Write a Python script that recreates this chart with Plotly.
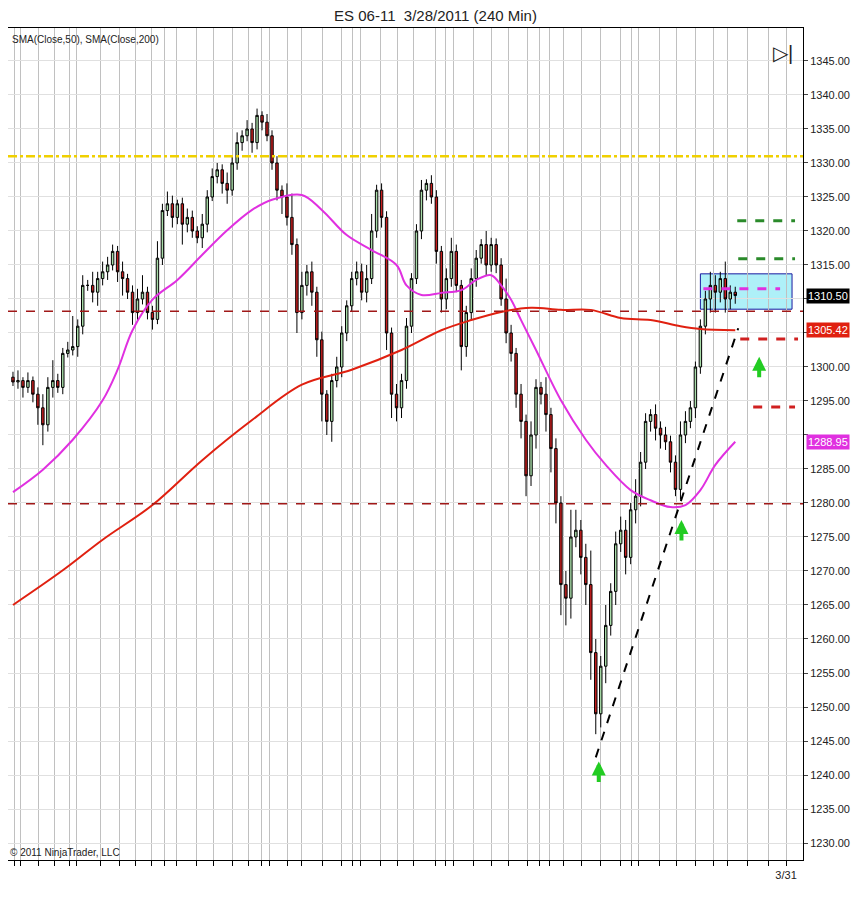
import plotly.graph_objects as go

closes = [1297.8,1298,1297,1298,1296,1294,1291.5,1297,1298,1297,1302,1302.5,1303,1306,1312,1312,1311,1313,1314,1315,
          1317,1314,1313,1311,1308,1310,1311,1308,1307,1316,1323,1324,1322,1324,1321,1322,1320,1319,1321,1325,
          1328,1329,1327,1326,1330,1333,1334,1335,1333,1337,1336,1334,1330,1326,1325,1322,1318,1308,1312,1314,
          1311,1304,1296,1292,1298,1300,1305,1309,1313,1314,1311,1313,1320,1326,1322,1305,1296,1294,1298,1306,
          1313,1320,1326,1327,1325,1317,1310,1313,1317,1312,1303,1308,1313,1316,1318,1315,1318,1315,1310,1305,
          1302,1296,1292,1284,1290,1297,1296,1293,1288,1280,1268,1266,1275,1276,1272,1268,1258,1249,1256,1262,
          1267,1274,1276,1272,1279,1281,1286,1292,1293,1291,1290,1289,1286,1282,1290,1292,1294,1300,1306,1310,
          1312,1311,1313,1310,1311,1310.5]
first_open = 1298.5
up_wick = [0.8,1.5,0.5,1.2,0.6,1.0,2.0,1.5,3.0,1.0,0.8,1.2,4.5,1.0,1.5,0.8,2.0,1.0,1.5,1.2,
           1.0,0.8,1.5,0.7,1.0,1.5,2.5,0.8,1.0,2.5,1.0,1.8,1.2,0.6,0.9,1.3,1.0,0.7,1.5,1.0,
           1.2,1.0,0.8,1.6,1.0,1.5,0.8,1.3,0.9,1.0,0.6,1.2,0.8,1.0,0.7,2.0,3.5,0.9,2.0,1.0,
           1.5,0.8,1.2,0.6,1.0,1.5,1.0,0.8,1.0,1.5,1.2,2.0,2.5,0.8,1.0,0.9,0.8,1.5,1.0,1.2,
           0.8,1.0,1.5,0.6,1.2,1.0,0.8,1.5,2.0,1.0,0.8,1.0,1.5,1.2,0.8,2.0,1.0,0.9,1.0,3.0,
           1.2,0.8,1.5,1.0,2.0,1.2,0.8,2.5,1.0,1.5,1.0,2.0,4.0,3.0,1.5,2.0,5.0,2.0,1.5,3.0,
           1.2,1.8,2.0,1.5,1.0,2.5,1.5,1.2,0.8,1.5,1.0,1.2,0.9,1.0,2.0,1.5,1.0,0.8,1.0,1.2,
           2.0,1.5,1.0,2.5,1.0,0.8]
lo_wick = [0.6,1.0,1.5,0.8,1.2,2.5,3.0,1.0,1.5,0.8,1.0,0.6,0.8,1.5,1.2,0.8,1.5,2.0,1.0,1.2,
           0.8,1.5,2.5,1.0,1.8,1.2,0.8,1.0,1.5,0.7,1.0,0.8,1.5,1.0,3.0,1.2,1.0,0.8,1.5,1.2,
           0.6,1.0,1.5,2.0,0.8,1.0,1.2,0.8,1.5,1.0,1.2,0.8,1.0,1.5,2.5,1.2,1.5,3.0,1.0,1.5,
           2.0,2.5,4.0,2.0,3.0,1.0,1.5,1.2,0.8,1.0,1.2,1.5,0.8,1.0,1.5,2.5,3.5,2.0,1.5,1.2,
           1.0,0.8,1.2,1.5,1.0,1.8,2.0,1.5,1.2,1.0,3.5,1.5,1.0,1.2,0.8,1.5,1.0,1.2,1.0,1.5,
           1.2,2.0,2.5,3.0,1.5,2.0,1.5,2.5,3.5,3.0,4.5,4.0,3.0,1.5,2.5,3.0,4.0,3.0,2.0,2.5,
           1.5,2.0,1.2,2.5,1.0,2.0,1.5,1.0,1.5,1.8,2.0,1.2,1.5,1.0,1.5,1.2,1.0,1.5,1.0,1.2,
           2.0,3.0,1.5,2.0,1.5,1.2]

sma50_x = [0,6,12,18,21,24,28,33,38,43,48,52,58,62,67,72,77,79,82,86,90,93,96,98,100,102,105,110,115,119,124,128,132,135,138,141,145]
sma50_y = [1281.6,1284.9,1289.3,1295.1,1299.6,1305.4,1309.9,1312.8,1316.5,1320.1,1323.1,1324.6,1325.3,1323.1,1319.4,1317.2,1315.0,1312.0,1310.6,1310.9,
           1311.3,1312.8,1313.5,1312.0,1309.9,1306.9,1302.5,1295.1,1289.3,1285.6,1281.9,1280.4,1279.4,1279.7,1281.9,1285.6,1289.0]
sma200_x = [0,10,18,28,38,48,58,68,78,86,92,98,104,110,116,122,128,134,138,145]
sma200_y = [1265.0,1270.1,1274.6,1279.7,1286.3,1292.2,1297.4,1299.6,1302.5,1305.4,1306.9,1308.1,1308.7,1308.4,1308.4,1307.2,1306.9,1306.0,1305.6,1305.4]

grid_px = [12,18,36,52,67,74,98,117,133,149,162,174,194,211,230,246,259,267,286,300,321,340,351,359,379,396,412,434,444,452,
           472,490,507,526,539,549,563,581,600,620,631,638,659,676,695,713,727,747,768,786]
grid_bars = [(p - 10) / 5 for p in grid_px]
tick_text = [""] * (len(grid_bars) - 1) + ["3/31"]

price_ticks = list(range(1230, 1350, 5))
hidden_ticks = [1290, 1305, 1310]

yellow_level = 1331.0
res_level = 1308.2
sup_level = 1279.9
green_targets = [(145.4, 157, 1321.5), (145.6, 157, 1315.9)]
red_targets = [(146, 157.6, 1304.1), (148.6, 157, 1294.1)]
magenta_level = (138.6, 154, 1311.5)
box = (138, 156.4, 1308.5, 1313.7)
trend = (117, 1242.6, 145.6, 1305.7)
arrows = [(117.6, 1242.0), (134.2, 1277.5), (149.8, 1301.5)]
last_close, last_sma200, last_sma50 = 1310.50, 1305.42, 1288.95

opens = [first_open] + closes[:-1]
highs = [max(o, c) + w for o, c, w in zip(opens, closes, up_wick)]
lows = [min(o, c) - w for o, c, w in zip(opens, closes, lo_wick)]
xs = list(range(len(closes)))

fig = go.Figure()
fig.add_shape(type="rect", x0=box[0], x1=box[1], y0=box[2], y1=box[3],
              fillcolor="#aef0f8", line=dict(color="#1a1aa0", width=1), layer="below")
fig.add_trace(go.Candlestick(x=xs, open=opens, high=highs, low=lows, close=closes,
    increasing=dict(fillcolor="#a8dca8", line=dict(color="#000000", width=1)),
    decreasing=dict(fillcolor="#c81e1e", line=dict(color="#000000", width=1)),
    whiskerwidth=0, showlegend=False, hoverinfo="skip"))
fig.add_trace(go.Scatter(x=sma50_x, y=sma50_y, mode="lines", line=dict(color="#e030e0", width=2, shape="spline"), showlegend=False))
fig.add_trace(go.Scatter(x=sma200_x, y=sma200_y, mode="lines", line=dict(color="#e02010", width=2, shape="spline"), showlegend=False))

fig.add_hline(y=yellow_level, line=dict(color="#f0d000", width=2.5, dash="dashdot"))
fig.add_hline(y=res_level, line=dict(color="#a01818", width=1.5, dash="dash"))
fig.add_hline(y=sup_level, line=dict(color="#a01818", width=1.5, dash="dash"))
for x0, x1, y in green_targets:
    fig.add_shape(type="line", x0=x0, x1=x1, y0=y, y1=y, line=dict(color="#2a8a2a", width=3, dash="dash"))
for x0, x1, y in red_targets:
    fig.add_shape(type="line", x0=x0, x1=x1, y0=y, y1=y, line=dict(color="#d02020", width=3, dash="dash"))
fig.add_shape(type="line", x0=magenta_level[0], x1=magenta_level[1], y0=magenta_level[2], y1=magenta_level[2],
              line=dict(color="#e030e0", width=3, dash="dash"))
fig.add_shape(type="line", x0=trend[0], y0=trend[1], x1=trend[2], y1=trend[3],
              line=dict(color="#000000", width=2, dash="dash"))
for ax_, ay_ in arrows:
    fig.add_annotation(x=ax_, y=ay_, ax=0, ay=22, showarrow=True, arrowhead=2, arrowsize=0.7,
                       arrowwidth=4, arrowcolor="#22cc22", text="")

for val, bg, fg in [(last_close, "#000000", "#ffffff"), (last_sma200, "#e02010", "#ffffff"), (last_sma50, "#e030e0", "#ffffff")]:
    fig.add_annotation(x=1.0, xref="paper", y=val, xanchor="left", text=f"{val:.2f}", showarrow=False,
                       bgcolor=bg, font=dict(color=fg, size=11, family="Liberation Sans"), borderpad=1, xshift=3)

fig.add_annotation(x=0.003, y=0.995, xref="paper", yref="paper", xanchor="left", yanchor="top",
                   text="SMA(Close,50), SMA(Close,200)", showarrow=False, font=dict(size=10, color="#222"))
fig.add_annotation(x=0.0, y=0.0, xref="paper", yref="paper", xanchor="left", yanchor="bottom",
                   text="© 2011 NinjaTrader, LLC", showarrow=False, font=dict(size=10, color="#222"))
fig.add_annotation(x=0.99, y=0.985, xref="paper", yref="paper", xanchor="right", yanchor="top",
                   text="▷|", showarrow=False, font=dict(size=20, color="#222"))

fig.update_layout(
    width=855, height=895, margin=dict(l=0, r=60, t=20, b=43),
    paper_bgcolor="white", plot_bgcolor="white",
    font=dict(family="Liberation Sans", size=11, color="#222"),
    title=dict(text="ES 06-11  3/28/2011 (240 Min)", x=0.5, y=0.997, xanchor="center", yanchor="top",
               pad=dict(t=0, b=0), font=dict(size=15, color="#222")),
    xaxis=dict(range=[-1, 158.6], tickvals=grid_bars, ticktext=tick_text, showgrid=True, gridcolor="#c0c0c0",
               gridwidth=1, rangeslider=dict(visible=False), showline=True, linecolor="black", mirror=True,
               ticks="outside", ticklen=5, tickcolor="black", zeroline=False),
    yaxis=dict(side="right", range=[1227.5, 1349.85], tickvals=price_ticks,
               ticktext=["" if v in hidden_ticks else f"{v:.2f}" for v in price_ticks], showgrid=True, gridcolor="#e0e0e0",
               showline=True, linecolor="black", mirror=True, ticks="outside", ticklen=4, zeroline=False),
)
fig.write_html("out.html")
